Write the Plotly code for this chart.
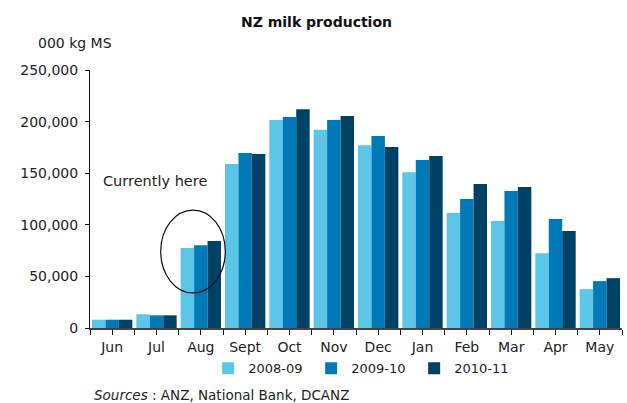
import numpy as np
import plotly.graph_objects as go

months = ["Jun", "Jul", "Aug", "Sept", "Oct", "Nov", "Dec", "Jan", "Feb", "Mar", "Apr", "May"]
season_2008_09 = [8000, 13300, 77400, 159000, 201600, 192000, 177000, 151000, 111400, 103600, 72500, 37600]
season_2009_10 = [8000, 12300, 80300, 169600, 204500, 201600, 186000, 162800, 125000, 132700, 105500, 45400]
season_2010_11 = [8000, 12300, 84200, 168600, 212000, 205500, 175400, 166700, 139500, 136600, 93900, 48300]
series_names = ["2008-09", "2009-10", "2010-11"]
series_colors = ["#5BC6E8", "#0079B8", "#004166"]
y_ticks = [0, 50000, 100000, 150000, 200000, 250000]

FONT = "DejaVu Sans"
x_idx = list(range(len(months)))

fig = go.Figure()
for name, vals, col in zip(series_names, [season_2008_09, season_2009_10, season_2010_11], series_colors):
    fig.add_trace(go.Bar(x=x_idx, y=vals, name=name, marker=dict(color=col, line=dict(width=0))))

tickvals = list(np.arange(-0.5, len(months) - 0.49, 0.5))
ticktext = []
for v in tickvals:
    if abs(v - round(v)) < 1e-9:
        ticktext.append(months[int(round(v))])
    else:
        ticktext.append("")

fig.update_layout(
    width=627, height=403, autosize=False,
    margin=dict(l=90, r=5, t=70, b=75),
    paper_bgcolor="white", plot_bgcolor="white",
    barmode="group", bargap=0.09, bargroupgap=0,
    font=dict(family=FONT, size=14, color="#222222"),
    title=dict(text="<b>NZ milk production</b>", x=316.5 / 627, xref="container", xanchor="center",
               y=1 - 22 / 403, yref="container", yanchor="middle",
               font=dict(family=FONT, size=14, color="#111111")),
    showlegend=True,
    legend=dict(orientation="h", x=0.5125, xanchor="center", y=(327.7 - 368) / 257.7, yanchor="middle",
                font=dict(family=FONT, size=13, color="#222222"), itemwidth=30,
                entrywidth=58, entrywidthmode="pixels",
                bgcolor="rgba(0,0,0,0)"),
    xaxis=dict(range=[-0.5, len(months) - 0.5], tickmode="array", tickvals=tickvals, ticktext=ticktext,
               showline=True, linecolor="#444444", linewidth=1.5, ticks="outside", ticklen=5,
               tickcolor="#111111", showgrid=False, zeroline=False, fixedrange=True),
    yaxis=dict(range=[0, 250000], tickmode="array", tickvals=y_ticks, tickformat=",",
               showline=True, linecolor="#111111", linewidth=1, ticks="outside", ticklen=4,
               tickcolor="#111111", showgrid=False, zeroline=False, ticklabelstandoff=4),
)

fig.add_shape(type="circle", xref="x", yref="y", x0=1.095, x1=2.552, y0=34000, y1=114300,
              line=dict(color="#111111", width=1.2))

fig.add_annotation(text="Currently here", xref="x", yref="y", x=0.965, y=142400,
                   xanchor="center", yanchor="middle", showarrow=False,
                   font=dict(family=FONT, size=14.5, color="#222222"))
fig.add_annotation(text="000 kg MS", xref="paper", yref="paper", x=(36 - 90) / 532.5, y=(327.7 - 43) / 257.7,
                   xanchor="left", yanchor="middle", showarrow=False,
                   font=dict(family=FONT, size=14, color="#222222"))
fig.add_annotation(text="<i>Sources</i> : ANZ, National Bank, DCANZ", xref="paper", yref="paper",
                   x=(92 - 90) / 532.5, y=(327.7 - 394.5) / 257.7,
                   xanchor="left", yanchor="middle", showarrow=False,
                   font=dict(family=FONT, size=13.5, color="#222222"))

fig.write_html("out.html")
